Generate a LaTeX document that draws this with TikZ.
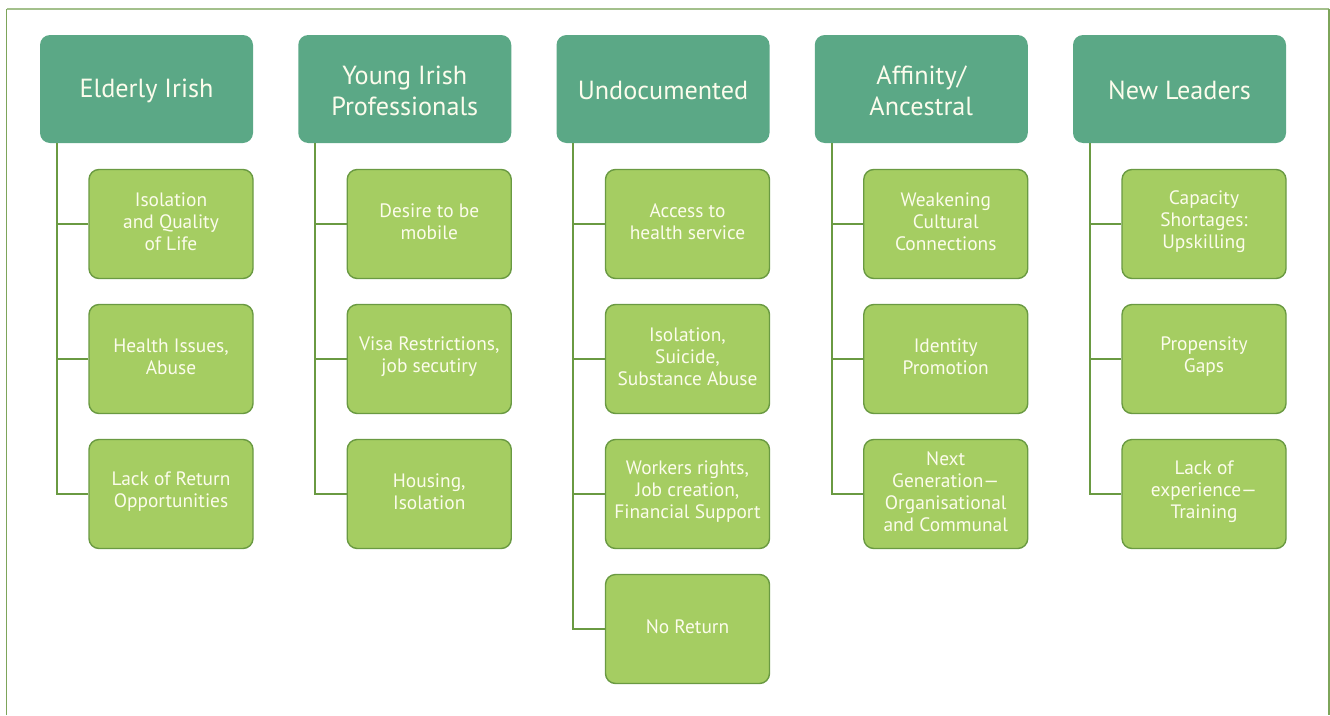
\documentclass[tikz,border=0pt]{standalone}
\usepackage{fontspec}
\setmainfont{PT Sans}
\begin{document}
\begin{tikzpicture}[x=1pt,y=-1pt,
  hdr/.style={draw=none,fill=hdrfill,rounded corners=10pt,minimum width=213pt,minimum height=108pt,
    text=txt,align=center,font=\fontsize{26.2}{31}\selectfont,inner sep=0pt},
  item/.style={draw=itemline,line width=1.4pt,fill=itemfill,rounded corners=10pt,minimum width=164pt,minimum height=109pt,
    text=txt,align=center,font=\fontsize{19.4}{22}\selectfont,inner sep=0pt},
  itemtext/.style={text=txt,align=center,font=\fontsize{19.4}{22}\selectfont,inner sep=0pt},
  conn/.style={draw=itemline,line width=2pt}]
\definecolor{hdrfill}{HTML}{5BA886}
\definecolor{itemfill}{HTML}{A5CD62}
\definecolor{itemline}{HTML}{6A9A42}
\definecolor{txt}{HTML}{FCFCEC}
\definecolor{frame}{HTML}{7DA55A}
\definecolor{frametop}{HTML}{A3C08C}
\useasboundingbox (0,0) rectangle (1330,715);
% frame
\draw[frame,line width=1.5pt] (6.5,715) -- (6.5,8.5);
\draw[frametop,line width=2pt] (6.5,8.5) -- (1329,8.5);
\draw[frame,line width=1.2pt] (1329,8.5) -- (1329,715);
% headers
\foreach \i/\t in {0/{Elderly Irish},1/{Young Irish\\Professionals},2/{Undocumented},3/{Affinity/\\Ancestral},4/{New Leaders}}{
  \node[hdr] (h\i) at ({40+258.25*\i+106.5},89) {};
  \node[hdr,fill=none] (ht\i) at ([yshift=-1.5pt]h\i.center) {\t};
}
% items
\foreach \i/\j/\t in {
  0/1/{Isolation\\and Quality\\of Life},0/2/{Health Issues,\\Abuse},0/3/{Lack of Return\\Opportunities},
  1/1/{Desire to be\\mobile},1/2/{Visa Restrictions,\\job secutiry},1/3/{Housing,\\Isolation},
  2/1/{Access to\\health service},2/2/{Isolation,\\Suicide,\\Substance Abuse},2/3/{Workers rights,\\Job creation,\\Financial Support},2/4/{No Return},
  3/1/{Weakening\\Cultural\\Connections},3/2/{Identity\\Promotion},3/3/{Next\\Generation—\\Organisational\\and Communal},
  4/1/{Capacity\\Shortages:\\Upskilling},4/2/{Propensity\\Gaps},4/3/{Lack of\\experience—\\Training}}{
  \node[item] (c\i\j) at ({40+258.25*\i+48.5+82.5},{224+135*(\j-1)}) {};
  \node[itemtext] (t\i\j) at ([yshift=2.5pt]c\i\j.center) {\t};
}
% connectors
\foreach \i/\n in {0/3,1/3,2/4,3/3,4/3}{
  \coordinate (top\i) at ([xshift=17pt]h\i.south west);
  \draw[conn] (top\i) |- (c\i\n.west);
  \foreach \j in {1,...,\n}{
    \draw[conn] (c\i\j.west) -- (top\i |- c\i\j.west);
  }
}
\end{tikzpicture}
\end{document}
